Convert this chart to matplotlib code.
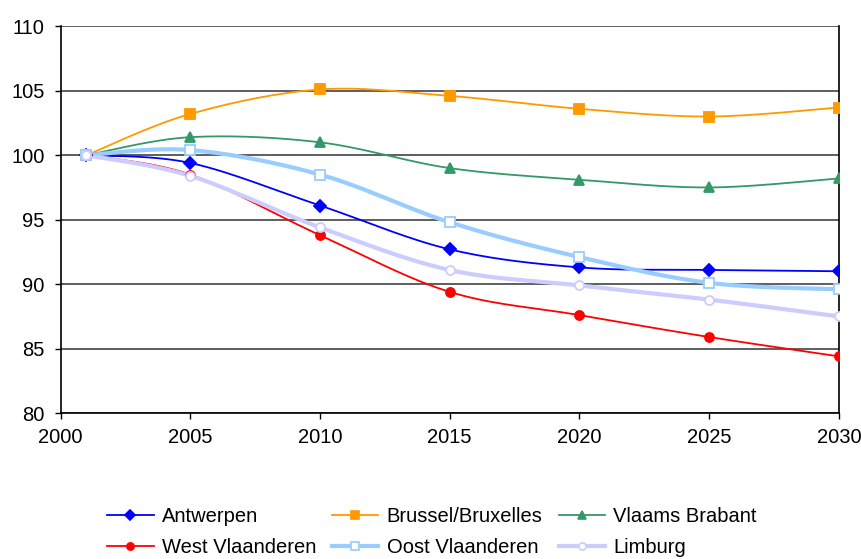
import numpy as np
import matplotlib
matplotlib.use('Agg')
import matplotlib.pyplot as plt

plt.rcParams['font.family'] = ['Liberation Sans', 'DejaVu Sans']

years = [2001, 2005, 2010, 2015, 2020, 2025, 2030]

antwerpen = [100, 99.4, 96.1, 92.7, 91.3, 91.1, 91.0]
brussel = [100, 103.2, 105.1, 104.6, 103.6, 103.0, 103.7]
vlaams_brabant = [100, 101.4, 101.0, 99.0, 98.1, 97.5, 98.2]
west_vl = [100, 98.5, 93.8, 89.4, 87.6, 85.9, 84.4]
oost_vl = [100, 100.4, 98.5, 94.8, 92.1, 90.1, 89.6]
limburg = [100, 98.4, 94.4, 91.1, 89.9, 88.8, 87.5]


def smooth(x, y, n=30):
    # bezier smoothing between the points (like the excel "smoothed line")
    x = np.asarray(x, float)
    y = np.asarray(y, float)
    px = np.concatenate([[x[0]], x, [x[-1]]])
    py = np.concatenate([[y[0]], y, [y[-1]]])
    xs, ys = [], []
    t = np.linspace(0, 1, n)
    for i in range(1, len(px) - 2):
        p0 = np.array([px[i], py[i]])
        p3 = np.array([px[i + 1], py[i + 1]])
        p1 = p0 + (np.array([px[i + 1], py[i + 1]]) - np.array([px[i - 1], py[i - 1]])) / 6
        p2 = p3 - (np.array([px[i + 2], py[i + 2]]) - np.array([px[i], py[i]])) / 6
        b = ((1 - t) ** 3)[:, None] * p0 + (3 * (1 - t) ** 2 * t)[:, None] * p1 \
            + (3 * (1 - t) * t ** 2)[:, None] * p2 + (t ** 3)[:, None] * p3
        xs.extend(b[:, 0])
        ys.extend(b[:, 1])
    return xs, ys


fig = plt.figure(figsize=(8.62, 5.59), dpi=100)
ax = fig.add_axes([0.0702, 0.261, 0.903, 0.692])

series = [
    ('Antwerpen', antwerpen, '#0000FF', 'D', '#0000FF', 1.3, 6),
    ('Brussel/Bruxelles', brussel, '#FF9900', 's', '#FF9900', 1.3, 6.5),
    ('Vlaams Brabant', vlaams_brabant, '#339966', '^', '#339966', 1.3, 7),
    ('West Vlaanderen', west_vl, '#FF0000', 'o', '#FF0000', 1.3, 6.5),
    ('Oost Vlaanderen', oost_vl, '#99CCFF', 's', 'white', 3, 6.5),
    ('Limburg', limburg, '#CCCCFF', 'o', 'white', 3, 6.5),
]

handles = {}
for name, vals, col, mk, face, lw, ms in series:
    sx, sy = smooth(years, vals)
    ax.plot(sx, sy, color=col, linewidth=lw, zorder=3)
    ax.plot(years, vals, linestyle='none', marker=mk, markersize=ms,
            markerfacecolor=face, markeredgecolor=col, markeredgewidth=1.3, zorder=4)
    h, = ax.plot([], [], color=col, linewidth=lw, marker=mk, markersize=ms * 0.8,
                 markerfacecolor=face, markeredgecolor=col, markeredgewidth=1.2)
    handles[name] = h

ax.set_xlim(2000, 2030)
ax.set_ylim(80, 110)
ax.set_xticks(range(2000, 2031, 5))
ax.set_yticks(range(80, 111, 5))
ax.yaxis.grid(True, color='#333333', linewidth=1.1)
ax.set_axisbelow(True)
ax.spines['top'].set_visible(False)
for s in ['left', 'right', 'bottom']:
    ax.spines[s].set_color('black')
    ax.spines[s].set_linewidth(1.2)
ax.tick_params(axis='both', labelsize=14.5, direction='out', length=4.5, width=1, colors='black')
ax.tick_params(axis='x', pad=6)
ax.tick_params(axis='y', pad=7)

order = ['Antwerpen', 'West Vlaanderen', 'Brussel/Bruxelles', 'Oost Vlaanderen',
         'Vlaams Brabant', 'Limburg']
fig.legend([handles[n] for n in order], order, ncol=3, loc='center',
           bbox_to_anchor=(0.501, 0.048), frameon=False, fontsize=14.5,
           handlelength=2.3, columnspacing=0.8, handletextpad=0.4, labelspacing=0.62,
           borderpad=0.2)

fig.savefig('out.png', dpi=100)
